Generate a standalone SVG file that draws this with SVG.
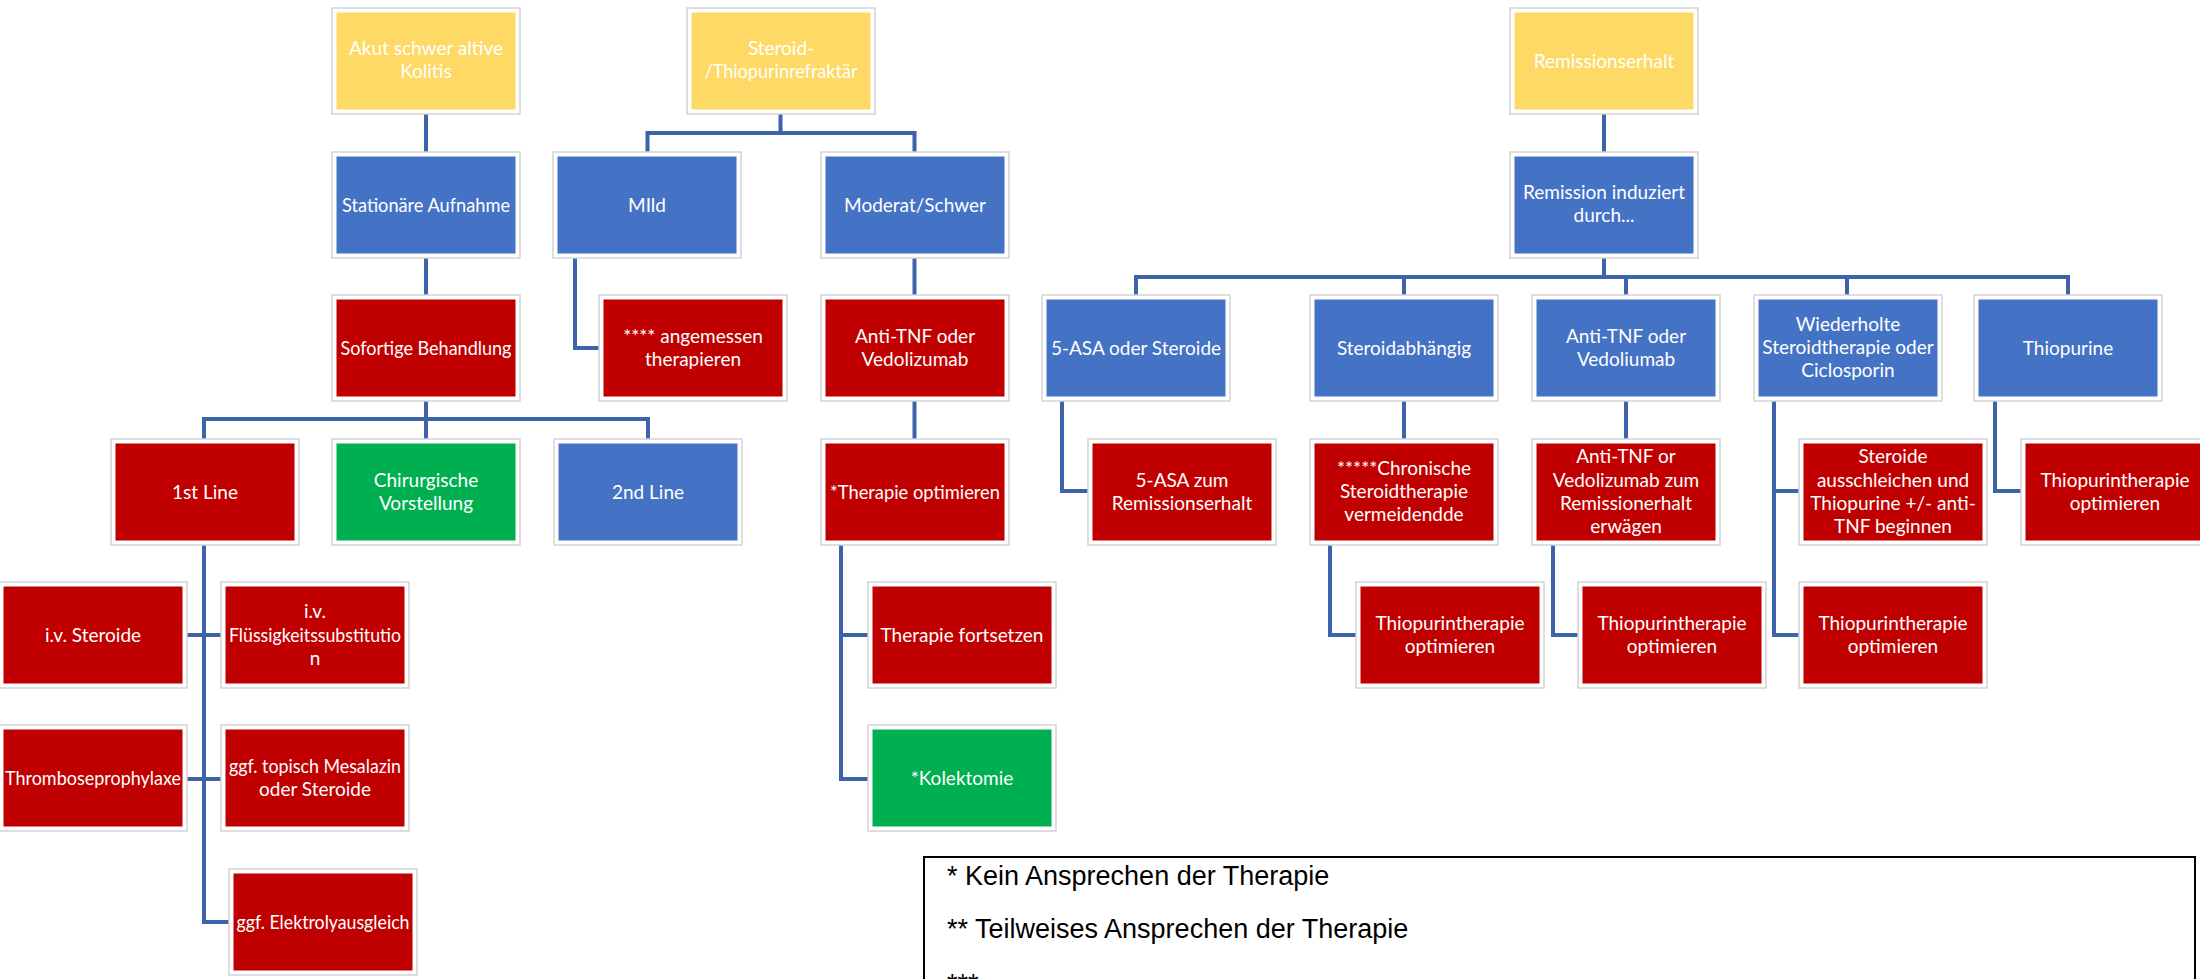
<svg xmlns="http://www.w3.org/2000/svg" width="2200" height="979" viewBox="0 0 2200 979">
<style>
.frame{fill:#ffffff;stroke:#d3d3d3;stroke-width:1.5}
.y{fill:#FFD966}
.b{fill:#4472C4}
.r{fill:#C00000}
.g{fill:#00B050}
.t{font-family:Lato,"Liberation Sans",sans-serif;font-size:19px;fill:#ffffff;text-anchor:middle}
.conn{fill:none;stroke:#3D63AA;stroke-width:4;stroke-linejoin:miter}
.leg{font-family:"Liberation Sans",Arial,sans-serif;font-size:27px;fill:#000000}
</style>
<rect x="0" y="0" width="2200" height="979" fill="#ffffff"/>
<g id="connectors">
<path class="conn" d="M426 114V152"/>
<path class="conn" d="M426 258V295"/>
<path class="conn" d="M426 400V439"/>
<path class="conn" d="M204 439V419H648V439"/>
<path class="conn" d="M780.5 114V133"/>
<path class="conn" d="M647.5 152V133H914.5V152"/>
<path class="conn" d="M575 258V348H599"/>
<path class="conn" d="M914.5 258V295"/>
<path class="conn" d="M914.5 400V439"/>
<path class="conn" d="M841 544V779H868"/>
<path class="conn" d="M841 635H868"/>
<path class="conn" d="M204 544V922H229"/>
<path class="conn" d="M187 635H221"/>
<path class="conn" d="M187 779H221"/>
<path class="conn" d="M1604 114V152"/>
<path class="conn" d="M1604 258V277"/>
<path class="conn" d="M1136 295V277H2068V295"/>
<path class="conn" d="M1404 277V295"/>
<path class="conn" d="M1626 277V295"/>
<path class="conn" d="M1847 277V295"/>
<path class="conn" d="M1062 400V491H1088"/>
<path class="conn" d="M1404 400V439"/>
<path class="conn" d="M1330 544V635H1356"/>
<path class="conn" d="M1626 400V439"/>
<path class="conn" d="M1553 544V635H1578"/>
<path class="conn" d="M1774 400V635H1799"/>
<path class="conn" d="M1774 491H1799"/>
<path class="conn" d="M1995 400V491H2021"/>
</g>
<g id="n-akut"><rect class="frame" x="332" y="8" width="188" height="106"/><rect class="y" x="336.5" y="12.5" width="179" height="97"/><text class="t"><tspan x="426" y="55">Akut schwer altive</tspan><tspan x="426" y="78.3">Kolitis</tspan></text></g>
<g id="n-steroid"><rect class="frame" x="687" y="8" width="188" height="106"/><rect class="y" x="691.5" y="12.5" width="179" height="97"/><text class="t" x="781" y="55">Steroid-</text><text class="t" x="781" y="78.3" textLength="153" lengthAdjust="spacingAndGlyphs">/Thiopurinrefraktär</text></g>
<g id="n-remerhalt"><rect class="frame" x="1510" y="8" width="188" height="106"/><rect class="y" x="1514.5" y="12.5" width="179" height="97"/><text class="t"><tspan x="1604" y="67.5">Remissionserhalt</tspan></text></g>
<g id="n-stationaer"><rect class="frame" x="332" y="152" width="188" height="106"/><rect class="b" x="336.5" y="156.5" width="179" height="97"/><text class="t" x="426" y="211.5" textLength="168" lengthAdjust="spacingAndGlyphs">Stationäre Aufnahme</text></g>
<g id="n-mild"><rect class="frame" x="553" y="152" width="188" height="106"/><rect class="b" x="557.5" y="156.5" width="179" height="97"/><text class="t"><tspan x="647" y="211.5">MIld</tspan></text></g>
<g id="n-moderat"><rect class="frame" x="821" y="152" width="188" height="106"/><rect class="b" x="825.5" y="156.5" width="179" height="97"/><text class="t"><tspan x="915" y="211.5">Moderat/Schwer</tspan></text></g>
<g id="n-reminduz"><rect class="frame" x="1510" y="152" width="188" height="106"/><rect class="b" x="1514.5" y="156.5" width="179" height="97"/><text class="t"><tspan x="1604" y="199">Remission induziert</tspan><tspan x="1604" y="222.3">durch...</tspan></text></g>
<g id="n-sofortige"><rect class="frame" x="332" y="295" width="188" height="106"/><rect class="r" x="336.5" y="299.5" width="179" height="97"/><text class="t" x="426" y="354.5" textLength="171" lengthAdjust="spacingAndGlyphs">Sofortige Behandlung</text></g>
<g id="n-angemessen"><rect class="frame" x="599" y="295" width="188" height="106"/><rect class="r" x="603.5" y="299.5" width="179" height="97"/><text class="t"><tspan x="693" y="342.5">**** angemessen</tspan><tspan x="693" y="365.8">therapieren</tspan></text></g>
<g id="n-antitnf1"><rect class="frame" x="821" y="295" width="188" height="106"/><rect class="r" x="825.5" y="299.5" width="179" height="97"/><text class="t"><tspan x="915" y="342.5">Anti-TNF oder</tspan><tspan x="915" y="365.8">Vedolizumab</tspan></text></g>
<g id="n-asa"><rect class="frame" x="1042" y="295" width="188" height="106"/><rect class="b" x="1046.5" y="299.5" width="179" height="97"/><text class="t"><tspan x="1136" y="354.5">5-ASA oder Steroide</tspan></text></g>
<g id="n-steroidabh"><rect class="frame" x="1310" y="295" width="188" height="106"/><rect class="b" x="1314.5" y="299.5" width="179" height="97"/><text class="t"><tspan x="1404" y="354.5">Steroidabhängig</tspan></text></g>
<g id="n-antitnf2"><rect class="frame" x="1532" y="295" width="188" height="106"/><rect class="b" x="1536.5" y="299.5" width="179" height="97"/><text class="t"><tspan x="1626" y="342.5">Anti-TNF oder</tspan><tspan x="1626" y="365.8">Vedoliumab</tspan></text></g>
<g id="n-wiederholte"><rect class="frame" x="1754" y="295" width="188" height="106"/><rect class="b" x="1758.5" y="299.5" width="179" height="97"/><text class="t"><tspan x="1848" y="330.7">Wiederholte</tspan><tspan x="1848" y="354">Steroidtherapie oder</tspan><tspan x="1848" y="377.3">Ciclosporin</tspan></text></g>
<g id="n-thiopurine"><rect class="frame" x="1974" y="295" width="188" height="106"/><rect class="b" x="1978.5" y="299.5" width="179" height="97"/><text class="t"><tspan x="2068" y="354.5">Thiopurine</tspan></text></g>
<g id="n-firstline"><rect class="frame" x="111" y="439" width="188" height="106"/><rect class="r" x="115.5" y="443.5" width="179" height="97"/><text class="t"><tspan x="205" y="498.5">1st Line</tspan></text></g>
<g id="n-chirurg"><rect class="frame" x="332" y="439" width="188" height="106"/><rect class="g" x="336.5" y="443.5" width="179" height="97"/><text class="t"><tspan x="426" y="486.5">Chirurgische</tspan><tspan x="426" y="509.8">Vorstellung</tspan></text></g>
<g id="n-secondline"><rect class="frame" x="554" y="439" width="188" height="106"/><rect class="b" x="558.5" y="443.5" width="179" height="97"/><text class="t"><tspan x="648" y="498.5">2nd Line</tspan></text></g>
<g id="n-topt"><rect class="frame" x="821" y="439" width="188" height="106"/><rect class="r" x="825.5" y="443.5" width="179" height="97"/><text class="t" x="915" y="498.5" textLength="170" lengthAdjust="spacingAndGlyphs">*Therapie optimieren</text></g>
<g id="n-asazum"><rect class="frame" x="1088" y="439" width="188" height="106"/><rect class="r" x="1092.5" y="443.5" width="179" height="97"/><text class="t"><tspan x="1182" y="486.5">5-ASA zum</tspan><tspan x="1182" y="509.8">Remissionserhalt</tspan></text></g>
<g id="n-chron"><rect class="frame" x="1310" y="439" width="188" height="106"/><rect class="r" x="1314.5" y="443.5" width="179" height="97"/><text class="t"><tspan x="1404" y="474.8">*****Chronische</tspan><tspan x="1404" y="498.1">Steroidtherapie</tspan><tspan x="1404" y="521.4">vermeidendde</tspan></text></g>
<g id="n-antitnfzum"><rect class="frame" x="1532" y="439" width="188" height="106"/><rect class="r" x="1536.5" y="443.5" width="179" height="97"/><text class="t"><tspan x="1626" y="463.2">Anti-TNF or</tspan><tspan x="1626" y="486.5">Vedolizumab zum</tspan><tspan x="1626" y="509.8">Remissionerhalt</tspan><tspan x="1626" y="533.1">erwägen</tspan></text></g>
<g id="n-ausschl"><rect class="frame" x="1799" y="439" width="188" height="106"/><rect class="r" x="1803.5" y="443.5" width="179" height="97"/><text class="t"><tspan x="1893" y="463.2">Steroide</tspan><tspan x="1893" y="486.5">ausschleichen und</tspan><tspan x="1893" y="509.8">Thiopurine +/- anti-</tspan><tspan x="1893" y="533.1">TNF beginnen</tspan></text></g>
<g id="n-thioopt-r"><rect class="frame" x="2021" y="439" width="188" height="106"/><rect class="r" x="2025.5" y="443.5" width="179" height="97"/><text class="t"><tspan x="2115" y="486.5">Thiopurintherapie</tspan><tspan x="2115" y="509.8">optimieren</tspan></text></g>
<g id="n-ivster"><rect class="frame" x="-1" y="582" width="188" height="106"/><rect class="r" x="3.5" y="586.5" width="179" height="97"/><text class="t"><tspan x="93" y="641.5">i.v. Steroide</tspan></text></g>
<g id="n-fluess"><rect class="frame" x="221" y="582" width="188" height="106"/><rect class="r" x="225.5" y="586.5" width="179" height="97"/><text class="t" x="315" y="618.2">i.v.</text><text class="t" x="315" y="641.5" textLength="172" lengthAdjust="spacingAndGlyphs">Flüssigkeitssubstitutio</text><text class="t" x="315" y="664.8">n</text></g>
<g id="n-tfort"><rect class="frame" x="868" y="582" width="188" height="106"/><rect class="r" x="872.5" y="586.5" width="179" height="97"/><text class="t"><tspan x="962" y="641.5">Therapie fortsetzen</tspan></text></g>
<g id="n-thio1"><rect class="frame" x="1356" y="582" width="188" height="106"/><rect class="r" x="1360.5" y="586.5" width="179" height="97"/><text class="t"><tspan x="1450" y="629.5">Thiopurintherapie</tspan><tspan x="1450" y="652.8">optimieren</tspan></text></g>
<g id="n-thio2"><rect class="frame" x="1578" y="582" width="188" height="106"/><rect class="r" x="1582.5" y="586.5" width="179" height="97"/><text class="t"><tspan x="1672" y="629.5">Thiopurintherapie</tspan><tspan x="1672" y="652.8">optimieren</tspan></text></g>
<g id="n-thio3"><rect class="frame" x="1799" y="582" width="188" height="106"/><rect class="r" x="1803.5" y="586.5" width="179" height="97"/><text class="t"><tspan x="1893" y="629.5">Thiopurintherapie</tspan><tspan x="1893" y="652.8">optimieren</tspan></text></g>
<g id="n-thromb"><rect class="frame" x="-1" y="725" width="188" height="106"/><rect class="r" x="3.5" y="729.5" width="179" height="97"/><text class="t" x="93" y="784.5" textLength="176" lengthAdjust="spacingAndGlyphs">Thromboseprophylaxe</text></g>
<g id="n-topisch"><rect class="frame" x="221" y="725" width="188" height="106"/><rect class="r" x="225.5" y="729.5" width="179" height="97"/><text class="t" x="315" y="772.5" textLength="172" lengthAdjust="spacingAndGlyphs">ggf. topisch Mesalazin</text><text class="t" x="315" y="795.8">oder Steroide</text></g>
<g id="n-kolek"><rect class="frame" x="868" y="725" width="188" height="106"/><rect class="g" x="872.5" y="729.5" width="179" height="97"/><text class="t"><tspan x="962" y="784.5">*Kolektomie</tspan></text></g>
<g id="n-elektro"><rect class="frame" x="229" y="869" width="188" height="106"/><rect class="r" x="233.5" y="873.5" width="179" height="97"/><text class="t" x="323" y="928.5" textLength="173" lengthAdjust="spacingAndGlyphs">ggf. Elektrolyausgleich</text></g>
<g id="legend"><rect x="924" y="857" width="1271" height="150" fill="#ffffff" stroke="#000000" stroke-width="2"/><text class="leg" x="947" y="885">* Kein Ansprechen der Therapie</text><text class="leg" x="947" y="938">** Teilweises Ansprechen der Therapie</text><text class="leg" x="947" y="993">***</text></g>
</svg>
